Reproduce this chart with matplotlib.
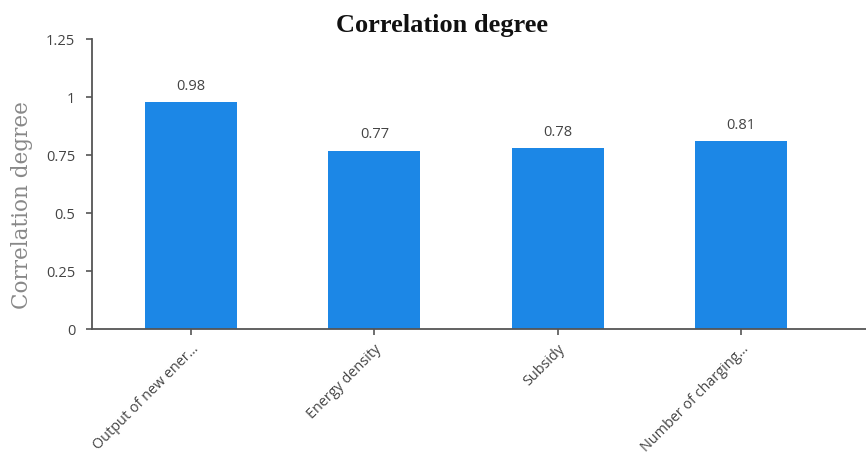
import matplotlib
matplotlib.use('Agg')
import matplotlib.pyplot as plt
from matplotlib.ticker import FuncFormatter

# correlation of each factor
fatores = ['Output of new ener...', 'Energy density', 'Subsidy', 'Number of charging...']
correlacao = [0.98, 0.77, 0.78, 0.81]
yticks = [0, 0.25, 0.5, 0.75, 1, 1.25]

fig = plt.figure(figsize=(8.66, 4.61), dpi=100)
ax = fig.add_axes([0.106, 0.286, 0.894, 0.629])

pos = list(range(len(fatores)))
bars = ax.bar(pos, correlacao, width=0.5, color='#1c87e6', zorder=2)

for b, v in zip(bars, correlacao):
    ax.text(b.get_x() + b.get_width() / 2, v + 0.035, '%g' % v,
            ha='center', va='bottom', fontsize=10.5, color='#444444', family='Open Sans')

ax.set_xlim(-0.54, 3.68)
ax.set_ylim(0, 1.25)
ax.set_yticks(yticks)
ax.yaxis.set_major_formatter(FuncFormatter(lambda v, p: '%g' % v))
ax.set_xticks(pos)
ax.set_xticklabels(fatores, rotation=45, ha='right', rotation_mode='anchor',
                   fontsize=10.4, color='#444444', family='Open Sans')
for t in ax.get_yticklabels():
    t.set_family('Open Sans')
    t.set_fontsize(10.5)
    t.set_color('#444444')

ax.spines['top'].set_visible(False)
ax.spines['right'].set_visible(False)
for s in ['left', 'bottom']:
    ax.spines[s].set_color('#555555')
    ax.spines[s].set_linewidth(1.3)
ax.tick_params(axis='both', color='#555555', length=4, width=1.2)
ax.tick_params(axis='y', pad=8)
ax.tick_params(axis='x', pad=5)

ax.set_ylabel('Correlation degree', family='DejaVu Serif', fontsize=15.5,
              color='#888888')
ax.yaxis.set_label_coords(-0.076, 0.428)
fig.text(0.51, 0.945, 'Correlation degree', ha='center', va='center',
         family='Liberation Serif', fontweight='bold', fontsize=19, color='#111111')

plt.savefig('out.png', dpi=100)
